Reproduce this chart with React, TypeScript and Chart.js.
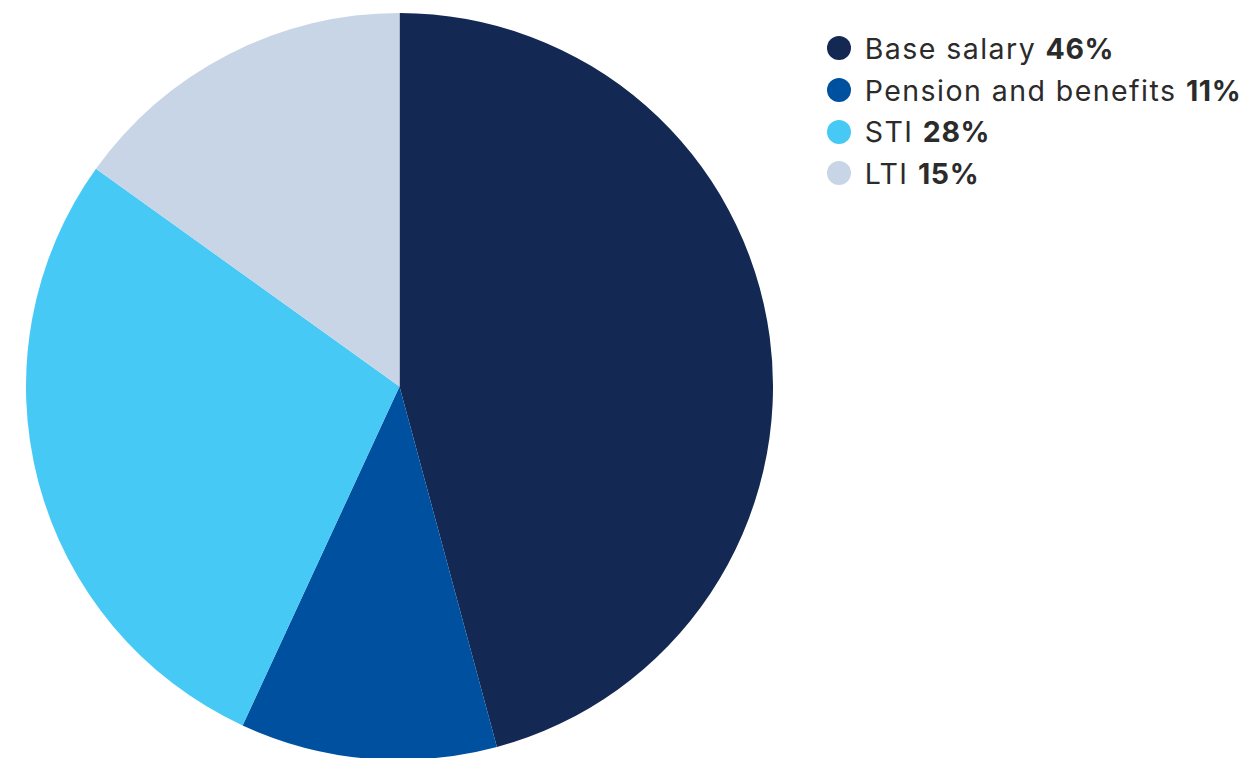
import React, { useEffect, useRef } from "react";
import { Chart, registerables } from "chart.js";

Chart.register(...registerables);

const categories = ["Base salary", "Pension and benefits", "STI", "LTI"];
const values = [45.8, 11.1, 28.0, 15.1];
const legendPercents = ["46%", "11%", "28%", "15%"];
const colors = ["#132852", "#0050a0", "#47c9f6", "#c8d5e6"];

export default function App() {
  const ref = useRef<HTMLCanvasElement | null>(null);

  useEffect(() => {
    if (!ref.current) return;
    const chart = new Chart(ref.current, {
      type: "pie",
      data: {
        labels: categories,
        datasets: [
          {
            data: values,
            backgroundColor: colors,
            borderWidth: 0,
            hoverOffset: 0,
          },
        ],
      },
      options: {
        animation: false,
        responsive: true,
        maintainAspectRatio: false,
        layout: { padding: 0 },
        plugins: {
          legend: { display: false },
          tooltip: { enabled: false },
        },
      },
    });
    return () => chart.destroy();
  }, []);

  const rowTop = 48.3;
  const rowGap = 41.7;

  return (
    <div
      style={{
        position: "fixed",
        left: 0,
        top: 0,
        width: 1256,
        height: 758,
        overflow: "hidden",
        background: "#ffffff",
        fontFamily: "Inter, 'Noto Sans', sans-serif",
      }}
    >
      <div
        style={{
          position: "absolute",
          left: 26,
          top: 13,
          width: 747,
          height: 747,
        }}
      >
        <canvas ref={ref} />
      </div>
      {categories.map((c, i) => (
        <div
          key={c}
          style={{
            position: "absolute",
            left: 826.7,
            top: rowTop + i * rowGap - 20,
            height: 40,
            display: "flex",
            alignItems: "center",
            whiteSpace: "nowrap",
            color: "#2b2b2b",
            fontSize: 28.5,
            letterSpacing: "1.45px",
          }}
        >
          <span
            style={{
              display: "inline-block",
              width: 24,
              height: 24,
              borderRadius: "50%",
              background: colors[i],
              marginRight: 14,
              flex: "none",
            }}
          />
          <span>
            {c} <b style={{ fontWeight: 700, letterSpacing: "0.6px" }}>{legendPercents[i]}</b>
          </span>
        </div>
      ))}
    </div>
  );
}
